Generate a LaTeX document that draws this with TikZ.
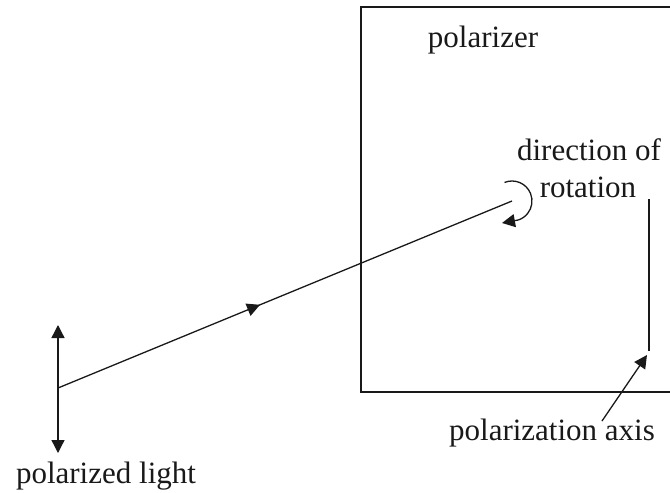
\documentclass[tikz,border=0pt]{standalone}
\usepackage{fontspec}
\setmainfont{Liberation Serif}
\usetikzlibrary{arrows.meta,decorations.markings}
\tikzset{
  lbl/.style={font=\fontsize{31}{37}\selectfont, inner sep=0pt, anchor=base, text=black!90},
  ln/.style={line width=1.3pt, draw=black!90},
  tip/.style={-{Triangle[length=13pt,width=13pt]}},
}
\begin{document}
\begin{tikzpicture}[x=1pt,y=-1pt]
\useasboundingbox (0,0) rectangle (670,493);
% polarizer frame
\draw[ln] (670,7) -| (361,392) -- (670,392);
% coordinates
\coordinate (top) at (58,325);
\coordinate (bot) at (58,453);
\coordinate (src) at (58,388);
\coordinate (ctr) at (512,201);
\coordinate (rtip) at (502,223);
\coordinate (axtop) at (649,199);
\coordinate (axbot) at (649,351);
\coordinate (pstart) at (602,421);
\coordinate (ptip) at (647,355);
% polarized light double arrow
\draw[ln,{Triangle[length=13pt,width=13pt]}-{Triangle[length=13pt,width=13pt]}] (top) -- (bot);
% light ray
\draw[ln, decoration={markings, mark=at position 0.445 with {\arrow{Triangle[length=13pt,width=13pt]}}}, postaction={decorate}] (src) -- (ctr);
% rotation arc
\draw[ln] (ctr) ++(-112:20) arc[start angle=-112, end angle=72, radius=20] coordinate (rend);
\draw[ln,tip] (rend) -- (rtip);
% polarization axis
\draw[ln] (axtop) -- (axbot);
\draw[ln,tip] (pstart) -- (ptip);
% labels
\node[lbl] (pz) at (483,47) {polarizer};
\node[lbl] (dir) at (589,160) {direction of};
\node[lbl] (rot) at (588,197) {rotation};
\node[lbl] (pax) at (552,440) {polarization axis};
\node[lbl] (pl) at (106,483) {polarized light};
\end{tikzpicture}
\end{document}
